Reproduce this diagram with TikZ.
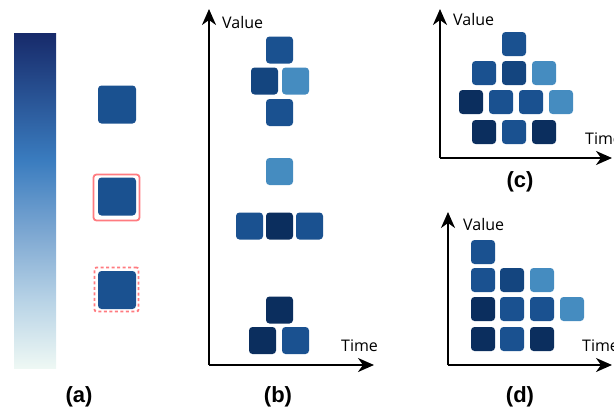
\documentclass[tikz,border=0pt]{standalone}
\usepackage{fontspec}
\setsansfont{Open Sans}
\newfontfamily\capfont{Liberation Sans}
\usepackage{tikz}
\usetikzlibrary{arrows.meta}

\definecolor{tmed}{HTML}{1A5190}
\definecolor{tdark}{HTML}{0B2E5E}
\definecolor{tdm}{HTML}{14457F}
\definecolor{tlight}{HTML}{458CC0}
\definecolor{frame}{HTML}{FF7B80}
\definecolor{bartop}{HTML}{172A6A}
\definecolor{barmid}{HTML}{3A7CBF}
\definecolor{barlow}{HTML}{7EA8D2}
\definecolor{barpale}{HTML}{B8D3E6}
\definecolor{barend}{HTML}{EEF8F4}
\pgfdeclareverticalshading{valuebar}{100bp}{color(0bp)=(barend); color(25bp)=(barend);
  color(35bp)=(barpale); color(45bp)=(barlow); color(56bp)=(barmid); color(75bp)=(bartop);
  color(100bp)=(bartop)}

\begin{document}
\begin{tikzpicture}[x=1pt,y=-1pt,
  tile/.style={rounded corners=3.5pt, inner sep=0pt, minimum size=#1},
  tile/.default=27pt,
  axis/.style={line width=2pt, -{Stealth[length=16pt,width=14pt,inset=5pt]}},
  axlabel/.style={font=\sffamily\fontsize{16}{18}\selectfont, anchor=west, inner sep=0pt},
  caption/.style={font=\capfont\bfseries\fontsize{22}{24}\selectfont}]
\useasboundingbox (0,0) rectangle (614,415);
% (a) colour scale and tiles
\shade[shading=valuebar] (14,33) rectangle (56,368);
\node[tile=38pt, fill=tmed] (a1) at (117,104.5) {};
\node[tile=38pt, fill=tmed] (a2) at (117,196.5) {};
\node[tile=38pt, fill=tmed] (a3) at (117,290) {};
\node[draw=frame, line width=1.8pt, rounded corners=3pt, minimum size=46pt] (f2) at (116.5,197.5) {};
\node[draw=frame, line width=1.8pt, dash pattern=on 3pt off 2.5pt, rounded corners=2pt, minimum size=44pt] (f3) at (116.5,289.5) {};
\node[caption] (capa) at (79,397) {(a)};
% (b)
\coordinate (bo) at (209,365);
\coordinate (by) at (209,9);
\coordinate (bx) at (374,365);
\draw[axis] (bo) -- (by);
\draw[axis] (bo) -- (bx);
\node[axlabel] (bval) at (222,22) {Value};
\node[axlabel] (btime) at (341,346) {Time};
\foreach \x/\y/\c [count=\i] in {279.5/50/tmed, 264.5/81/tdm, 295.5/81/tlight, 279.5/112.5/tmed,
    279.5/171.5/tlight, 249.5/226/tmed, 279.5/226/tdark, 309.5/226/tmed,
    279.5/310/tdark, 262.5/340.5/tdark, 295.5/340.5/tmed}
  \node[tile, fill=\c] (b\i) at (\x,\y) {};
\node[caption] (capb) at (278,397) {(b)};
% (c)
\coordinate (co) at (440,158);
\coordinate (cy) at (440,9);
\coordinate (cx) at (612,158);
\draw[axis] (co) -- (cy);
\draw[axis] (co) -- (cx);
\node[axlabel] (cval) at (453,20) {Value};
\node[axlabel] (ctime) at (585,139) {Time};
\foreach \x/\y/\c [count=\i] in {514/44/tmed,
    484/73/tmed, 514/73/tdm, 544/73/tlight,
    471/102/tdark, 501/102/tmed, 531/102/tmed, 561/102/tlight,
    484/132/tdark, 514/132/tmed, 544/132/tdark}
  \node[tile=24pt, fill=\c] (c\i) at (\x,\y) {};
\node[caption] (capc) at (520,182) {(c)};
% (d)
\coordinate (do) at (448,365);
\coordinate (dy) at (448,212);
\coordinate (dx) at (612,365);
\draw[axis] (do) -- (dy);
\draw[axis] (do) -- (dx);
\node[axlabel] (dval) at (463,224) {Value};
\node[axlabel] (dtime) at (582,346) {Time};
\foreach \x/\y/\c [count=\i] in {483/252/tmed,
    483/280/tmed, 512/280/tdm, 542/280/tlight,
    483/309/tdark, 512/309/tmed, 542/309/tmed, 572/309/tlight,
    483/339/tdark, 512/339/tmed, 542/339/tdark}
  \node[tile=24pt, fill=\c] (d\i) at (\x,\y) {};
\node[caption] (capd) at (520,397) {(d)};
\end{tikzpicture}
\end{document}
